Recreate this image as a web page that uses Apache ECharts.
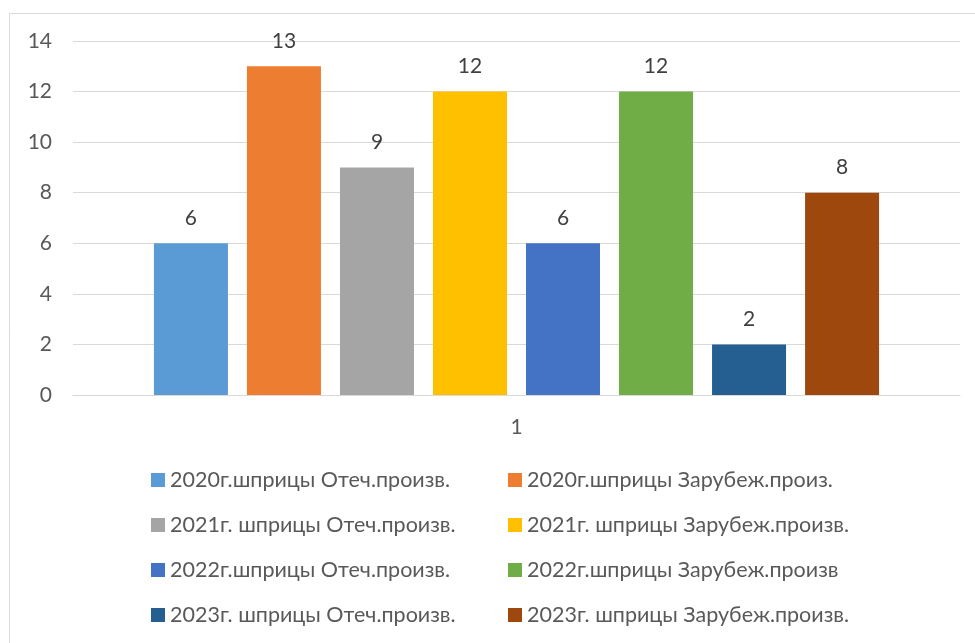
<!DOCTYPE html>
<html><head><meta charset="utf-8">
<script src="https://cdn.jsdelivr.net/npm/echarts@6/dist/echarts.min.js"></script>
<style>html,body{margin:0;padding:0;background:#fff}#c{width:975px;height:643px}</style>
</head><body><div id="c"></div>
<script>
const categories = ['1'];
const seriesNames = [
  '2020г.шприцы Отеч.произв.',
  '2020г.шприцы Зарубеж.произ.',
  '2021г. шприцы Отеч.произв.',
  '2021г. шприцы Зарубеж.произв.',
  '2022г.шприцы Отеч.произв.',
  '2022г.шприцы Зарубеж.произв',
  '2023г. шприцы Отеч.произв.',
  '2023г. шприцы Зарубеж.произв.'
];
const seriesValues = [6, 13, 9, 12, 6, 12, 2, 8];
const colors = ['#5B9BD5','#ED7D31','#A5A5A5','#FFC000','#4472C4','#70AD47','#255E91','#9E480E'];
const yTicks = {min: 0, max: 14, interval: 2};

const FONT = 'Lato';
const FS = 21;
const chart = echarts.init(document.getElementById('c'), null, {renderer: 'canvas'});
const series = seriesNames.map((n, i) => ({
  name: n, type: 'bar', data: [seriesValues[i]],
  barWidth: 74, barGap: '25.7%',
  itemStyle: {color: colors[i]},
  label: {show: true, position: 'top', distance: 15, color: '#404040', fontSize: FS, fontFamily: FONT}
}));
const legendCommon = {
  orient: 'vertical', itemWidth: 14, itemHeight: 14, icon: 'rect', itemGap: 21,
  textStyle: {color: '#595959', fontSize: 21.5, fontFamily: FONT, lineHeight: 24},
  top: 468
};
chart.setOption({
  animation: false,
  color: colors,
  graphic: [{type: 'rect', shape: {x: 9.5, y: 13.5, width: 1000, height: 700}, style: {fill: 'none', stroke: '#d9d9d9', lineWidth: 1}, z: -1}],
  grid: {left: 73, right: 15, top: 41, bottom: 248},
  xAxis: {type: 'category', data: categories,
    axisLine: {lineStyle: {color: '#d9d9d9'}}, axisTick: {show: false},
    axisLabel: {color: '#595959', fontSize: FS, fontFamily: FONT, margin: 22}},
  yAxis: {type: 'value', min: yTicks.min, max: yTicks.max, interval: yTicks.interval,
    axisLine: {show: false}, axisTick: {show: false},
    splitLine: {lineStyle: {color: '#d9d9d9'}},
    axisLabel: {color: '#595959', fontSize: FS, fontFamily: FONT, margin: 21}},
  legend: [
    Object.assign({left: 151, padding: 0, data: seriesNames.filter((_, i) => i % 2 === 0)}, legendCommon),
    Object.assign({left: 508, padding: 0, data: seriesNames.filter((_, i) => i % 2 === 1)}, legendCommon)
  ],
  series: series
});
</script></body></html>
